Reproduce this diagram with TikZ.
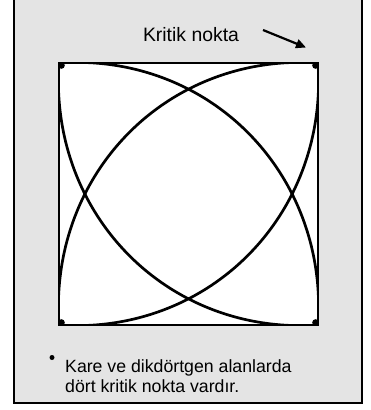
\documentclass[tikz,border=0pt]{standalone}
\usepackage{fontspec}
\setmainfont{Liberation Sans}
\usetikzlibrary{arrows.meta}
\definecolor{panelgray}{RGB}{228,228,228}
\tikzset{
  frameline/.style={line width=2.8pt, fill=panelgray},
  sqbox/.style={line width=2.6pt, fill=white},
  nodal/.style={line width=2.7pt},
  cdot/.style={fill=black},
  txt/.style={inner sep=0pt, anchor=base west, font=\fontsize{17.7}{20}\selectfont},
  ttl/.style={inner sep=0pt, anchor=base, font=\fontsize{19.4}{22}\selectfont},
  pointer/.style={line width=2.2pt, -{Triangle[length=10pt,width=9pt]}}
}
\begin{document}
\begin{tikzpicture}[x=1pt,y=-1pt]
\useasboundingbox (0,0) rectangle (371,410);
\fill[white] (0,0) rectangle (371,410);
\draw[frameline] (14,-5) rectangle (362,403);
% square
\coordinate (TL) at (59,63);
\coordinate (BR) at (318,325);
\draw[sqbox] (TL) rectangle (BR);
\def\k{0.035}
\begin{scope}
\clip (TL) rectangle (BR);
\draw[nodal] plot[domain=0:90, samples=80, variable=\t, smooth]
  ({59+259*(1+\k*sin(2*\t))*sin(\t)}, {325-262*(1+\k*sin(2*\t))*cos(\t)});
\draw[nodal] plot[domain=0:90, samples=80, variable=\t, smooth]
  ({318-259*(1+\k*sin(2*\t))*sin(\t)}, {325-262*(1+\k*sin(2*\t))*cos(\t)});
\draw[nodal] plot[domain=0:90, samples=80, variable=\t, smooth]
  ({318-259*(1+\k*sin(2*\t))*sin(\t)}, {63+262*(1+\k*sin(2*\t))*cos(\t)});
\draw[nodal] plot[domain=0:90, samples=80, variable=\t, smooth]
  ({59+259*(1+\k*sin(2*\t))*sin(\t)}, {63+262*(1+\k*sin(2*\t))*cos(\t)});
\end{scope}
\draw[line width=2.6pt] (TL) rectangle (BR);
% corner critical points
\fill[cdot] (61.5,65.5) circle (3.3pt);
\fill[cdot] (315.5,65.5) circle (3.3pt);
\fill[cdot] (61.5,322.5) circle (3.3pt);
\fill[cdot] (315.5,322.5) circle (3.3pt);
% title and pointer
\node[ttl] (title) at (191,41) {Kritik nokta};
\coordinate (pS) at (263,30);
\coordinate (pE) at (306,47.5);
\draw[pointer] (pS) -- (pE);
% bullet text
\fill[cdot] (52,357.5) circle (2.5pt);
\node[txt] (line1) at (65,372) {Kare ve dikdörtgen alanlarda};
\node[txt] (line2) at (65,392) {dört kritik nokta vardır.};
\end{tikzpicture}
\end{document}
